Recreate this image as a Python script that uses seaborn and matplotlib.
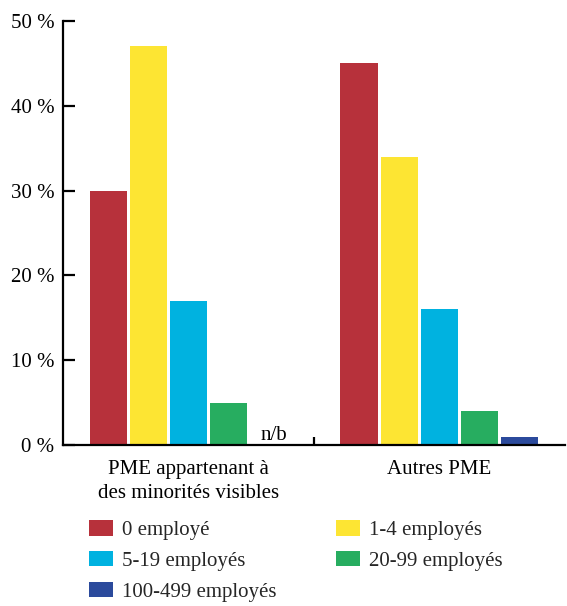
import seaborn as sns
import matplotlib.pyplot as plt
import pandas as pd
import numpy as np
from matplotlib.ticker import FuncFormatter

# Data
groups = ["PME appartenant à\ndes minorités visibles", "Autres PME"]
sizes = ["0 employé", "1-4 employés", "5-19 employés", "20-99 employés", "100-499 employés"]
minorites = [30, 47, 17, 5, np.nan]  # 100-499 : n/b
autres = [45, 34, 16, 4, 1]
colors = ["#B7313B", "#FDE533", "#00B2E0", "#27AD60", "#2B4A9C"]

df = pd.DataFrame({
    "Groupe": [groups[0]] * len(sizes) + [groups[1]] * len(sizes),
    "Taille": sizes + sizes,
    "Part": minorites + autres,
})

sns.set_theme(style="white")
plt.rcParams["font.family"] = ["Liberation Serif", "DejaVu Serif"]
plt.rcParams["font.size"] = 15

fig = plt.figure(figsize=(5.67, 6.06), dpi=100)
ax = fig.add_axes([0.111, 0.2657, 0.885, 0.6997])

sns.barplot(data=df, x="Groupe", y="Part", hue="Taille", order=groups, hue_order=sizes,
            palette=colors, saturation=1, errorbar=None, width=0.8, gap=0.075,
            linewidth=0, ax=ax)

# n/b label for missing bar
ax.text(0.34, 0.6, "n/b", ha="center", va="baseline", fontsize=15, color="black")

ax.set_xlim(-0.5, 1.5)
ax.set_ylim(0, 50)
ax.set_yticks(range(0, 51, 10))
ax.yaxis.set_major_formatter(FuncFormatter(lambda v, p: f"{int(v)} %"))
ax.set_xlabel("")
ax.set_ylabel("")

for s in ["top", "right"]:
    ax.spines[s].set_visible(False)
for s in ["left", "bottom"]:
    ax.spines[s].set_color("black")
    ax.spines[s].set_linewidth(1.6)

ax.tick_params(axis="y", direction="in", length=8.5, width=1.6, color="black",
               labelsize=15, labelcolor="black", pad=6, left=True)
ax.tick_params(axis="x", which="major", length=0, labelsize=15, labelcolor="black", pad=11)
for t in ax.get_xticklabels():
    t.set_linespacing(1.35)
ax.set_xticks([0.5], minor=True)
ax.tick_params(axis="x", which="minor", direction="in", length=6, width=1.6, color="black", bottom=True)

# Legend in row order: 0 / 1-4, 5-19 / 20-99, 100-499
handles, labels = ax.get_legend_handles_labels()
ax.get_legend().remove()
idx = [0, 2, 4, 1, 3]
fig.legend([handles[i] for i in idx], [labels[i] for i in idx], ncol=2,
           loc="upper left", bbox_to_anchor=(0.138, 0.159), frameon=False,
           fontsize=15, borderpad=0, handlelength=1.15, handleheight=0.77,
           handletextpad=0.43, columnspacing=2.9, labelspacing=0.52)

plt.savefig("out.png", dpi=100)
